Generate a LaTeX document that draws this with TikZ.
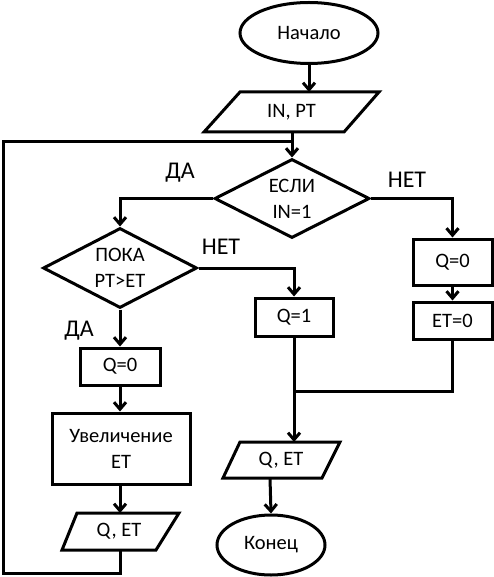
\documentclass[tikz,border=0pt]{standalone}
\usepackage{fontspec}
\setmainfont{Carlito}
\usetikzlibrary{shapes.geometric,arrows.meta}
\begin{document}
\begin{tikzpicture}[x=1pt,y=-1pt,line width=3pt,line join=miter,
  every node/.style={font=\fontsize{20.5}{26}\selectfont,align=center},
  box/.style={draw,rectangle,inner sep=0pt},
  term/.style={draw,ellipse,inner sep=0pt},
  dec/.style={draw,diamond,inner sep=0pt,aspect=2},
  lab/.style={font=\fontsize{24}{28}\selectfont},
  arr/.style={-{Straight Barb[length=7pt,width=12pt,line width=3pt]}}]
\useasboundingbox (0,0) rectangle (493,577);
% nodes
\node[term,minimum width=138pt,minimum height=61pt] (start) at (309,33) {Начало};
\draw (240,92) -- (379,92) -- (344,132) -- (204,132) -- cycle;
\node (inpt) at (291.5,112) {IN, PT};
\coordinate (inptT) at (309,92);
\coordinate (inptB) at (292,132);
\coordinate (j1) at (292,142);
\node[dec,minimum width=155pt,minimum height=79pt] (if) at (292,198.5) {ЕСЛИ\\IN=1};
\node[dec,minimum width=154pt,minimum height=80pt] (while) at (120,268) {ПОКА\\PT>ET};
\node[box,minimum width=79pt,minimum height=46pt] (q0r) at (452.5,262) {Q=0};
\node[box,minimum width=79pt,minimum height=37pt] (et0) at (452.5,320.5) {ET=0};
\node[box,minimum width=78pt,minimum height=38pt] (q1) at (294,317) {Q=1};
\node[box,minimum width=80pt,minimum height=37pt] (q0l) at (120,366.5) {Q=0};
\node[box,minimum width=138pt,minimum height=71pt] (inc) at (121,448.5) {Увеличение\\ET};
\draw (77,513) -- (179,513) -- (156,550) -- (62,550) -- cycle;
\node (outl) at (119,531.5) {Q, ET};
\coordinate (outlT) at (120,513);
\coordinate (outlB) at (120,550);
\coordinate (lc1) at (3,573);
\draw (240,442) -- (340,442) -- (322,478) -- (223,478) -- cycle;
\node (outm) at (281,460) {Q, ET};
\coordinate (outmT) at (294,442);
\coordinate (outmB) at (270,478);
\coordinate (m) at (294,391);
\node[term,minimum width=108pt,minimum height=60pt] (end) at (271,545) {Конец};
% labels
\node[lab] (l1) at (180,173) {ДА};
\node[lab] (l2) at (407,180) {НЕТ};
\node[lab] (l3) at (221,247) {НЕТ};
\node[lab] (l4) at (79,331) {ДА};
% connectors
\draw[arr] (start.south) -- (inptT);
\draw[arr] (inptB) -- (if.north);
\draw[arr] (if.west) -| (while.north);
\draw[arr] (if.east) -| (q0r.north);
\draw[arr] (q0r) -- (et0);
\draw[arr] (while.east) -| (q1.north);
\draw[arr] (while) -- (q0l);
\draw[arr] (q0l.south) -- (q0l.south |- inc.north);
\draw[arr] (inc.south -| outlT) -- (outlT);
\draw (outlB) |- (lc1) |- (j1);
\draw (q1) -- (m);
\draw (et0) |- (m);
\draw[arr] (m) -- (outmT);
\draw[arr] (outmB) -- (end.north);
\end{tikzpicture}
\end{document}
